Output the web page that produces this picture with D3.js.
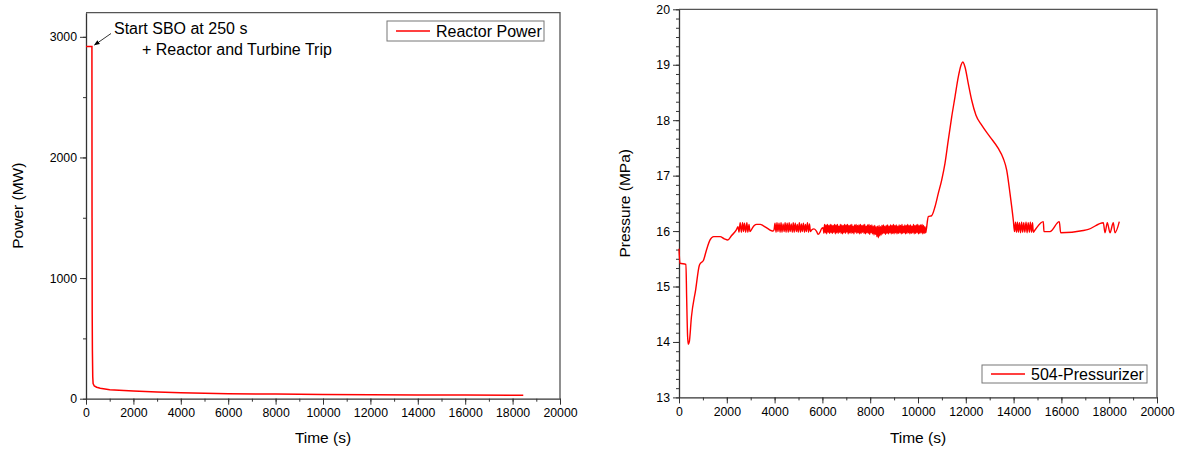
<!DOCTYPE html>
<html>
<head>
<meta charset="utf-8">
<script src="https://cdn.jsdelivr.net/npm/d3@7"></script>
<style>
  body { margin: 0; background: #fff; }
  svg { font-family: "Liberation Sans", Arial, sans-serif; }
  .tick text { font-size: 12.3px; fill: #000; }
</style>
</head>
<body>
<svg id="chart" width="1189" height="450"></svg>
<script>
// Puissance du réacteur (MW) en fonction du temps (s)
const powerTime  = [0, 250, 255, 262, 270, 285, 300, 350, 450, 600, 1000, 2000, 3000, 4000, 6000, 8000, 10000, 12000, 14000, 16000, 18450];
const powerValue = [2920, 2920, 1500, 700, 400, 180, 125, 105, 95, 86, 75, 63, 55, 49, 42, 38, 35, 33, 31, 30, 29];

// Pression du pressuriseur (MPa) : segments [temps, pression]
const pressureStart = [
  [0, 15.68], [40, 15.42], [290, 15.40], [320, 14.8], [360, 14.1], [390, 13.96], [430, 14.0],
  [520, 14.45], [700, 14.95], [850, 15.38], [900, 15.42], [1020, 15.47], [1150, 15.66],
  [1300, 15.84], [1450, 15.9], [1720, 15.9], [1900, 15.86], [2040, 15.84], [2200, 15.92],
  [2400, 16.02], [2470, 16.08]
];
const pressureOscA = [
  [2510, 15.98], [2560, 16.15], [2610, 15.98], [2660, 16.15], [2700, 15.99], [2740, 16.14],
  [2790, 15.98], [2840, 16.15], [2880, 15.98], [2930, 16.12], [2970, 15.99]
];
const pressureHump = [
  [3050, 16.04], [3150, 16.1], [3250, 16.12], [3400, 16.12], [3515, 16.1], [3700, 16.05],
  [3850, 16.01], [3933, 16.0], [3980, 16.03]
];
const pressureOscB = [
  [4017, 16.14], [4060, 15.98], [4100, 16.15], [4140, 15.99], [4185, 16.14], [4230, 15.98],
  [4270, 16.15], [4310, 15.98], [4355, 16.13], [4400, 15.99], [4440, 16.15], [4480, 15.98],
  [4525, 16.14], [4570, 15.98], [4610, 16.15], [4650, 15.99], [4695, 16.13], [4740, 15.98],
  [4780, 16.15], [4820, 15.98], [4865, 16.14], [4910, 15.99], [4950, 16.12], [4990, 15.98],
  [5035, 16.15], [5080, 15.98], [5120, 16.13], [5160, 15.99], [5205, 16.14], [5250, 15.98],
  [5290, 16.12], [5330, 15.99], [5375, 16.15], [5420, 15.98], [5460, 16.13], [5500, 15.99],
  [5550, 16.02], [5650, 16.04], [5750, 16.0], [5820, 15.94], [5900, 15.98], [5960, 16.04],
  [6030, 16.06]
];
const pressureOscC = [
  [6060, 15.96], [6090, 16.12], [6120, 15.97], [6150, 16.11], [6180, 15.95], [6210, 16.12],
  [6240, 15.98], [6270, 16.10], [6300, 15.96], [6330, 16.12], [6360, 15.97], [6390, 16.11],
  [6420, 15.96], [6450, 16.10], [6480, 15.98], [6510, 16.12], [6540, 15.95], [6570, 16.11],
  [6600, 15.97], [6630, 16.12], [6660, 15.96], [6690, 16.09], [6720, 15.98], [6750, 16.12],
  [6780, 15.96], [6810, 16.11], [6840, 15.95], [6870, 16.10], [6900, 15.97], [6930, 16.12],
  [6960, 15.96], [6990, 16.11], [7020, 15.98], [7050, 16.12], [7080, 15.95], [7110, 16.10],
  [7140, 15.97], [7170, 16.11], [7200, 15.96], [7230, 16.12], [7260, 15.97], [7290, 16.09],
  [7320, 15.95], [7350, 16.11], [7380, 15.98], [7410, 16.12], [7440, 15.96], [7470, 16.10],
  [7500, 15.97], [7530, 16.11], [7560, 15.95], [7590, 16.12], [7620, 15.96], [7650, 16.10],
  [7680, 15.98], [7710, 16.11], [7740, 15.96], [7770, 16.12], [7800, 15.95], [7830, 16.09],
  [7860, 15.97], [7890, 16.11], [7920, 15.96], [7950, 16.12], [7980, 15.94], [8010, 16.10],
  [8040, 15.97], [8070, 16.11], [8100, 15.95], [8130, 16.09], [8160, 15.93], [8190, 16.10],
  [8220, 15.94], [8250, 16.08], [8280, 15.90], [8310, 16.09], [8340, 15.88], [8370, 16.10],
  [8400, 15.91], [8430, 16.08], [8460, 15.93], [8490, 16.10], [8520, 15.95], [8550, 16.11],
  [8580, 15.96], [8610, 16.09], [8640, 15.94], [8670, 16.10], [8700, 15.96], [8730, 16.11],
  [8760, 15.95], [8790, 16.09], [8820, 15.97], [8850, 16.11], [8880, 15.95], [8910, 16.10],
  [8940, 15.96], [8970, 16.12], [9000, 15.95], [9030, 16.10], [9060, 15.97], [9090, 16.11],
  [9120, 15.95], [9150, 16.09], [9180, 15.96], [9210, 16.11], [9240, 15.97], [9270, 16.10],
  [9300, 15.95], [9330, 16.12], [9360, 15.96], [9390, 16.09], [9420, 15.97], [9450, 16.11],
  [9480, 15.95], [9510, 16.10], [9540, 15.96], [9570, 16.12], [9600, 15.97], [9630, 16.10],
  [9660, 15.95], [9690, 16.11], [9720, 15.96], [9750, 16.09], [9780, 15.97], [9810, 16.12],
  [9840, 15.95], [9870, 16.10], [9900, 15.96], [9930, 16.11], [9960, 15.97], [9990, 16.12],
  [10020, 15.95], [10050, 16.10], [10080, 15.96], [10110, 16.11], [10140, 15.97], [10170, 16.12],
  [10200, 15.95], [10230, 16.10], [10260, 15.96], [10290, 16.08], [10320, 15.97]
];
const pressurePeak = [
  [10345, 16.02], [10431, 16.26], [10573, 16.28], [10711, 16.44], [10849, 16.68], [10991, 16.92],
  [11129, 17.22], [11267, 17.64], [11410, 18.06], [11548, 18.42], [11686, 18.78], [11799, 18.99],
  [11870, 19.05], [11966, 18.96], [12104, 18.66], [12247, 18.36], [12426, 18.09], [12665, 17.91],
  [13012, 17.70], [13359, 17.49], [13569, 17.31], [13711, 17.10], [13849, 16.68], [13987, 16.20],
  [14040, 15.99]
];
const pressureEnd = [
  [14080, 16.16], [14120, 15.98], [14160, 16.16], [14200, 15.98], [14245, 16.15], [14290, 15.97],
  [14335, 16.16], [14380, 15.98], [14425, 16.15], [14470, 15.98], [14520, 16.16], [14565, 15.97],
  [14610, 16.15], [14660, 15.98], [14700, 16.16], [14750, 15.98], [14790, 16.15], [14825, 15.98],
  [14895, 16.02], [15243, 16.17], [15271, 15.99], [15523, 15.99], [15912, 16.17], [15970, 15.97],
  [16917, 16.01], [17126, 16.03], [17754, 16.15], [17824, 15.97], [17921, 16.15], [18033, 15.97],
  [18171, 16.15], [18242, 15.97], [18423, 16.17]
];

const timeTicks = [0, 2000, 4000, 6000, 8000, 10000, 12000, 14000, 16000, 18000, 20000];
const powerTicks = [0, 1000, 2000, 3000];
const pressureTicks = [13, 14, 15, 16, 17, 18, 19, 20];

const svg = d3.select('#chart');
const axisColor = '#333';
const frameColor = '#555';

// Petite fonction pour dessiner un panneau (cadre + axes)
function drawPanel(box, xDomain, yDomain, yTicks, yMinorStep, xLabel, yLabel, yLabelX) {
  const x = d3.scaleLinear().domain(xDomain).range([box.left, box.right]);
  const y = d3.scaleLinear().domain(yDomain).range([box.bottom, box.top]);
  const g = svg.append('g');

  // cadre haut et droit
  g.append('path')
    .attr('d', `M${box.left},${box.top}H${box.right}V${box.bottom}`)
    .attr('fill', 'none').attr('stroke', frameColor).attr('stroke-width', 1.3);

  // ticks mineurs
  const xMinor = d3.range(xDomain[0], xDomain[1] + 1, 1000);
  g.append('g').attr('transform', `translate(0,${box.bottom})`)
    .call(d3.axisBottom(x).tickValues(xMinor).tickSize(3).tickFormat(''))
    .call(a => a.select('.domain').remove())
    .selectAll('line').attr('stroke', axisColor);
  const yMinor = d3.range(yDomain[0], yDomain[1] + 1e-6, yMinorStep);
  g.append('g').attr('transform', `translate(${box.left},0)`)
    .call(d3.axisLeft(y).tickValues(yMinor).tickSize(3).tickFormat(''))
    .call(a => a.select('.domain').remove())
    .selectAll('line').attr('stroke', axisColor);

  const xAxis = g.append('g').attr('transform', `translate(0,${box.bottom})`)
    .call(d3.axisBottom(x).tickValues(timeTicks).tickSize(6).tickSizeOuter(0).tickPadding(4).tickFormat(d3.format('d')));
  const yAxis = g.append('g').attr('transform', `translate(${box.left},0)`)
    .call(d3.axisLeft(y).tickValues(yTicks).tickSize(6).tickSizeOuter(0).tickPadding(3).tickFormat(d3.format('d')));
  [xAxis, yAxis].forEach(a => {
    a.select('.domain').attr('stroke', axisColor).attr('stroke-width', 1.3);
    a.selectAll('.tick line').attr('stroke', axisColor);
    a.selectAll('.tick text').style('font-family', '"Liberation Sans", Arial, sans-serif');
  });

  g.append('text')
    .attr('x', (box.left + box.right) / 2).attr('y', 443)
    .attr('text-anchor', 'middle').style('font-size', '15.5px')
    .text(xLabel);
  g.append('text')
    .attr('transform', `translate(${yLabelX},${(box.top + box.bottom) / 2}) rotate(-90)`)
    .attr('text-anchor', 'middle').style('font-size', '15.5px')
    .text(yLabel);

  return { x, y, g };
}

function drawLegend(g, bx, by, bw, bh, label) {
  g.append('rect').attr('x', bx).attr('y', by).attr('width', bw).attr('height', bh)
    .attr('fill', '#fff').attr('stroke', '#777').attr('stroke-width', 1);
  g.append('line').attr('x1', bx + 9).attr('x2', bx + 43)
    .attr('y1', by + bh / 2).attr('y2', by + bh / 2)
    .attr('stroke', '#ff0000').attr('stroke-width', 1.5);
  g.append('text').attr('x', bx + 49).attr('y', by + bh / 2 + 5.5)
    .style('font-size', '16px').text(label);
}

// --- Panneau gauche : puissance
const left = drawPanel({ left: 86, right: 560, top: 12.7, bottom: 398.7 },
  [0, 20000], [0, 3200], powerTicks, 500, 'Time (s)', 'Power (MW)', 23);

const powerData = powerTime.map((t, i) => [t, powerValue[i]]);
left.g.append('path')
  .datum(powerData)
  .attr('fill', 'none').attr('stroke', '#ff0000').attr('stroke-width', 1.5)
  .attr('d', d3.line().x(d => left.x(d[0])).y(d => left.y(d[1])));

drawLegend(left.g, 387, 21, 157, 20, 'Reactor Power');

// annotation avec flèche
svg.append('defs').append('marker')
  .attr('id', 'arrow').attr('viewBox', '0 0 10 10').attr('refX', 9).attr('refY', 5)
  .attr('markerWidth', 7).attr('markerHeight', 7).attr('orient', 'auto')
  .append('path').attr('d', 'M0,1L10,5L0,9z').attr('fill', '#000');
left.g.append('line')
  .attr('x1', 111).attr('y1', 33.5).attr('x2', 94.5).attr('y2', 45)
  .attr('stroke', '#000').attr('stroke-width', 0.8).attr('marker-end', 'url(#arrow)');
left.g.append('text').attr('x', 114).attr('y', 34).style('font-size', '16px')
  .text('Start SBO at 250 s');
left.g.append('text').attr('x', 142).attr('y', 55).style('font-size', '16px')
  .text('+ Reactor and Turbine Trip');

// --- Panneau droit : pression
const right = drawPanel({ left: 679, right: 1157, top: 9.3, bottom: 397.4 },
  [0, 20000], [13, 20], pressureTicks, 1 / 6, 'Time (s)', 'Pressure (MPa)', 630);

const pressureData = [].concat(pressureStart, pressureOscA, pressureHump, pressureOscB,
  pressureOscC, pressurePeak, pressureEnd);
right.g.append('path')
  .datum(pressureData)
  .attr('fill', 'none').attr('stroke', '#ff0000').attr('stroke-width', 1.4)
  .attr('d', d3.line().curve(d3.curveMonotoneX).x(d => right.x(d[0])).y(d => right.y(d[1])));

drawLegend(right.g, 982, 365, 165, 18, '504-Pressurizer');
</script>
</body>
</html>
